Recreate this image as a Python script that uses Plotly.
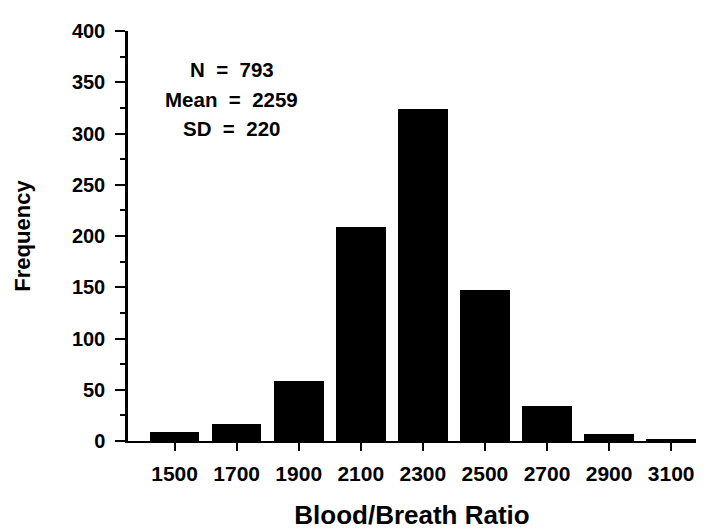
import plotly.graph_objects as go

# Data
ratio_bins = [1500, 1700, 1900, 2100, 2300, 2500, 2700, 2900, 3100]
frequency = [9, 17, 59, 209, 324, 147, 34, 7, 2]
x_tick_labels = ["1500", "1700", "1900", "2100", "2300", "2500", "2700", "2900", "3100"]
y_tick_values = [0, 50, 100, 150, 200, 250, 300, 350, 400]
stats_labels = ["N", "Mean", "SD"]
stats_values = [793, 2259, 220]

FONT = "Liberation Sans, Arial, Helvetica, sans-serif"

fig = go.Figure()
fig.add_trace(go.Bar(
    x=ratio_bins,
    y=frequency,
    width=160,
    marker=dict(color="black", line=dict(width=0)),
    showlegend=False,
))

annotations = []
for i, (lab, val) in enumerate(zip(stats_labels, stats_values)):
    annotations.append(dict(
        text=f"<b>{lab}  =  {val}</b>",
        xref="paper", yref="paper",
        x=0.183, y=0.905 - i * 0.071,
        xanchor="center", yanchor="middle",
        showarrow=False,
        font=dict(family=FONT, size=20.5, color="black"),
    ))

fig.update_layout(
    width=707, height=529,
    margin=dict(l=120, r=19, t=15, b=89),
    paper_bgcolor="white", plot_bgcolor="white",
    bargap=0,
    annotations=annotations,
    xaxis=dict(
        range=[1350, 3180],
        tickmode="array", tickvals=ratio_bins,
        ticktext=[f"<b>{t}</b>" for t in x_tick_labels],
        ticks="outside", ticklen=8, tickwidth=2, tickcolor="black",
        ticklabelstandoff=5,
        showline=True, linewidth=2, linecolor="black",
        showgrid=False, zeroline=False,
        tickfont=dict(family=FONT, size=21, color="black"),
        title=dict(text="<b>Blood/Breath Ratio</b>", standoff=22,
                   font=dict(family=FONT, size=26, color="black")),
    ),
    yaxis=dict(
        range=[0, 400],
        tickmode="array", tickvals=y_tick_values,
        ticktext=[f"<b>{v}</b>" for v in y_tick_values],
        ticks="outside", ticklen=10, tickwidth=2, tickcolor="black",
        ticklabelstandoff=6,
        minor=dict(dtick=25, ticks="outside", ticklen=5, tickwidth=1.5, tickcolor="black"),
        showline=True, linewidth=2.5, linecolor="black",
        showgrid=False, zeroline=False,
        tickfont=dict(family=FONT, size=20, color="black"),
        title=dict(text="<b>Frequency</b>", standoff=36,
                   font=dict(family=FONT, size=22, color="black")),
    ),
)

fig.write_html("out.html")
